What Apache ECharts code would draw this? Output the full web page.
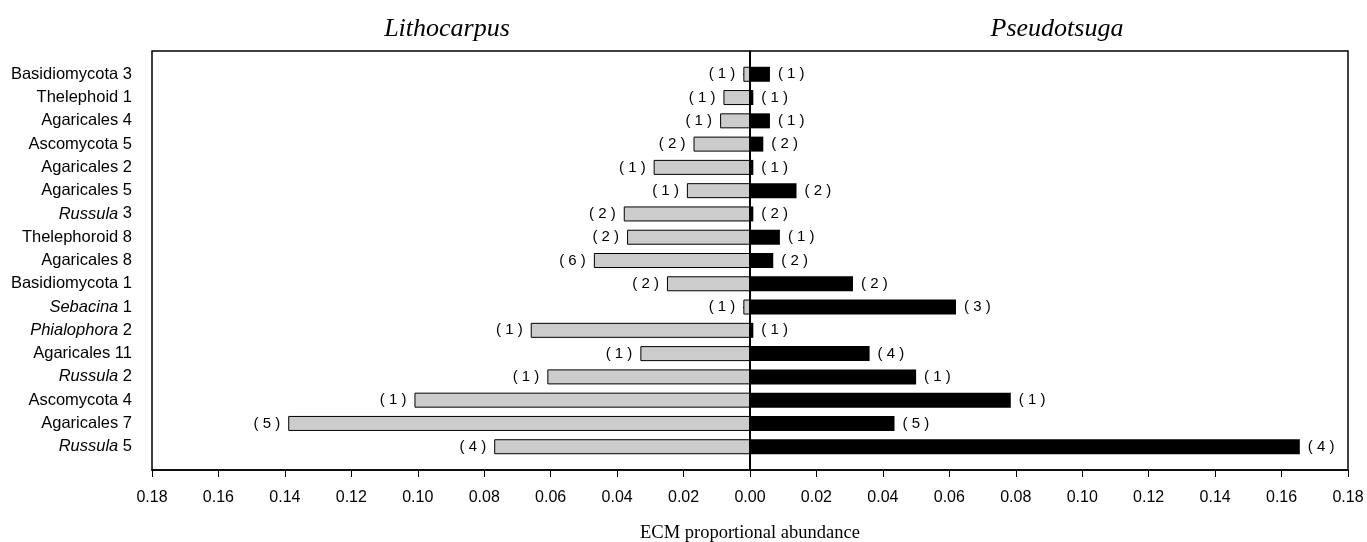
<!DOCTYPE html>
<html>
<head>
<meta charset="utf-8">
<script src="https://cdn.jsdelivr.net/npm/echarts@6/dist/echarts.min.js"></script>
<style>
html,body{margin:0;padding:0;background:#fff;}
#chart{width:1367px;height:542px;}
</style>
</head>
<body>
<div id="chart"></div>
<script>
// Taxa (top to bottom); italic genus part kept separate
const taxaGenus = ['', '', '', '', '', '', 'Russula', '', '', '', 'Sebacina', 'Phialophora', '', 'Russula', '', '', 'Russula'];
const taxaName = ['Basidiomycota 3', 'Thelephoid 1', 'Agaricales 4', 'Ascomycota 5', 'Agaricales 2', 'Agaricales 5', '3', 'Thelephoroid 8', 'Agaricales 8', 'Basidiomycota 1', '1', '2', 'Agaricales 11', '2', 'Ascomycota 4', 'Agaricales 7', '5'];
// Lithocarpus proportional abundance
const lithoValues = [0.002, 0.008, 0.009, 0.017, 0.029, 0.019, 0.038, 0.037, 0.047, 0.025, 0.002, 0.066, 0.033, 0.061, 0.101, 0.139, 0.077];
const lithoCounts = [1, 1, 1, 2, 1, 1, 2, 2, 6, 2, 1, 1, 1, 1, 1, 5, 4];
// Pseudotsuga proportional abundance
const pseudoValues = [0.006, 0.001, 0.006, 0.004, 0.001, 0.014, 0.001, 0.009, 0.007, 0.031, 0.062, 0.001, 0.036, 0.050, 0.0785, 0.0435, 0.1655];
const pseudoCounts = [1, 1, 1, 2, 1, 2, 2, 1, 2, 2, 3, 1, 4, 1, 1, 5, 4];
const xTicks = { min: -0.18, max: 0.18, interval: 0.02 };

const cats = [''];
taxaName.forEach((n, i) => cats.push(taxaGenus[i] ? '{i|' + taxaGenus[i] + '} ' + n : n));
cats.push('');

const leftData = [null].concat(lithoValues.map(v => -v)).concat([null]);
const rightData = [null].concat(pseudoValues).concat([null]);
const leftCnt = [null].concat(lithoCounts).concat([null]);
const rightCnt = [null].concat(pseudoCounts).concat([null]);

const chart = echarts.init(document.getElementById('chart'));
const sans = 'Liberation Sans, Arial, sans-serif';
const serif = 'Liberation Serif, Times New Roman, serif';
chart.setOption({
  animation: false,
  backgroundColor: '#fff',
  title: [
    { text: 'Lithocarpus', left: 442, top: 11, textAlign: 'center',
      textStyle: { fontFamily: serif, fontStyle: 'italic', fontWeight: 'normal', fontSize: 26, color: '#000' } },
    { text: 'Pseudotsuga', left: 1052, top: 11, textAlign: 'center',
      textStyle: { fontFamily: serif, fontStyle: 'italic', fontWeight: 'normal', fontSize: 26, color: '#000' } }
  ],
  grid: { left: 152, right: 19, top: 51, bottom: 72, outerBoundsMode: 'none', containLabel: false,
    show: true, borderColor: '#000', borderWidth: 1.5, backgroundColor: 'transparent' },
  xAxis: {
    type: 'value', min: xTicks.min, max: xTicks.max, interval: xTicks.interval,
    axisLine: { show: true, lineStyle: { color: '#000', width: 1.5 } },
    axisTick: { show: true, inside: false, length: 7, lineStyle: { color: '#000', width: 1 } },
    splitLine: { show: false },
    axisLabel: { margin: 20, fontFamily: sans, fontSize: 16, color: '#000',
      formatter: v => Math.abs(v).toFixed(2) },
    name: 'ECM proportional abundance', nameLocation: 'middle', nameGap: 54,
    nameTextStyle: { fontFamily: serif, fontSize: 18.5, color: '#000' }
  },
  yAxis: {
    type: 'category', data: cats, inverse: true, boundaryGap: false,
    axisLine: { show: true, lineStyle: { color: '#000', width: 1.5 } },
    axisTick: { show: true, length: 7, interval: (idx, val) => val !== '', alignWithLabel: true, lineStyle: { color: '#000', width: 1 } },
    axisLabel: { interval: 0, margin: 20, fontFamily: sans, fontSize: 16.5, color: '#000',
      rich: { i: { fontFamily: sans, fontSize: 16.5, fontStyle: 'italic', color: '#000' } } },
    splitLine: { show: false }
  },
  series: [
    {
      type: 'bar', data: leftData, barWidth: 15, barGap: '-100%',
      itemStyle: { color: '#cccccc', borderColor: '#000', borderWidth: 1 },
      label: { show: true, position: 'left', distance: 8, fontFamily: sans, fontSize: 15, color: '#000',
        formatter: p => leftCnt[p.dataIndex] == null ? '' : '( ' + leftCnt[p.dataIndex] + ' )' },
      markLine: { silent: true, symbol: 'none', label: { show: false },
        lineStyle: { color: '#000', width: 2, type: 'solid' }, data: [{ xAxis: 0 }] },
      z: 2
    },
    {
      type: 'bar', data: rightData, barWidth: 15, barGap: '-100%',
      itemStyle: { color: '#000' },
      label: { show: true, position: 'right', distance: 8, fontFamily: sans, fontSize: 15, color: '#000',
        formatter: p => rightCnt[p.dataIndex] == null ? '' : '( ' + rightCnt[p.dataIndex] + ' )' },
      z: 2
    }
  ]
});
</script>
</body>
</html>
